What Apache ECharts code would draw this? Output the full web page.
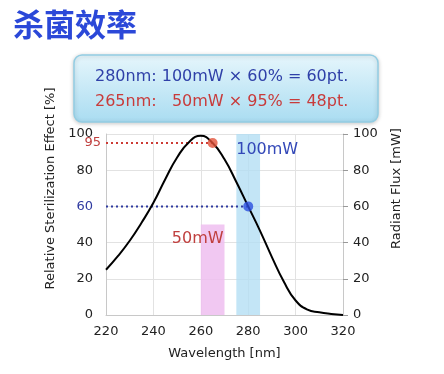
<!DOCTYPE html>
<html><head><meta charset="utf-8">
<script src="https://cdn.jsdelivr.net/npm/echarts@6/dist/echarts.min.js"></script>
<style>html,body{margin:0;padding:0;background:#fff}#c{width:444px;height:374px}</style>
</head><body><div id="c"></div>
<script>
// ---- data ----
const titleText = '杀菌效率';
const infoLine1 = '280nm: 100mW × 60% = 60pt.';
const infoLine2 = '265nm:   50mW × 95% = 48pt.';
const wavelengths = [220,225,230,235,240,245,250,255,260,265,270,275,280,285,290,295,300,305,310,315,320];
const effect =      [25, 32.5, 41, 51, 62, 75, 87, 95.5, 99, 95, 86, 73.5, 60, 46.5, 32, 18.5, 8, 3, 1.5, 0.6, 0];
const barCenters = [265, 280];
const barWidthsNm = [10, 10];
const barFlux = [50, 100];
const barLabels = ['50mW', '100mW'];
const point265 = [265, 95];
const point280 = [280, 60];
const xTicks = [220, 240, 260, 280, 300, 320];
const yTicks = [0, 20, 40, 60, 80, 100];

const FONT = 'DejaVu Sans';
const chart = echarts.init(document.getElementById('c'));
const barColors = ['rgba(238,190,240,0.85)', 'rgba(180,222,244,0.8)'];
const barLabelColors = ['#c0403f', '#3348b8'];
const barLabelOffsets = [[-15, 14], [19, 16]];

chart.setOption({
  animation: false,
  textStyle: { fontFamily: FONT },
  grid: { left: 106, right: 101, top: 134, bottom: 59 },
  xAxis: {
    type: 'value', min: xTicks[0], max: xTicks[xTicks.length-1], interval: 20,
    name: 'Wavelength [nm]', nameLocation: 'middle', nameGap: 32,
    nameTextStyle: { fontSize: 13, color: '#222', fontFamily: FONT },
    axisLine: { show: true, lineStyle: { color: '#c8c8c8' } },
    axisTick: { show: false },
    axisLabel: { fontSize: 13, color: '#222', margin: 10, fontFamily: FONT },
    splitLine: { show: true, lineStyle: { color: '#e2e2e2' } }
  },
  yAxis: [{
    type: 'value', min: 0, max: 100, interval: 20, position: 'left',
    name: 'Relative Sterilization Effect [%]', nameLocation: 'middle', nameGap: 40,
    nameTextStyle: { fontSize: 13, color: '#222', fontFamily: FONT, padding: [0, 0, 0, 72] },
    axisLine: { show: true, lineStyle: { color: '#c8c8c8' } },
    axisTick: { show: false },
    axisLabel: { fontSize: 13, margin: 13, fontFamily: FONT,
      formatter: v => v === 60 ? '{b|60}' : '{k|' + v + '}',
      rich: { b: { color: '#2f3aa0', fontSize: 13, fontFamily: FONT }, k: { color: '#222', fontSize: 13, fontFamily: FONT } } },
    splitLine: { show: true, lineStyle: { color: '#e2e2e2' } }
  }, {
    type: 'value', min: 0, max: 100, interval: 20, position: 'right',
    name: 'Radiant Flux [mW]', nameLocation: 'middle', nameGap: 47,
    nameTextStyle: { fontSize: 13, color: '#222', fontFamily: FONT, padding: [0, 0, 0, 72] },
    axisLine: { show: true, lineStyle: { color: '#c8c8c8' } },
    axisTick: { show: true, length: 5, lineStyle: { color: '#999' } },
    axisLabel: { fontSize: 13, color: '#222', margin: 10, fontFamily: FONT },
    splitLine: { show: false }
  }],
  series: [{
    type: 'custom', yAxisIndex: 1, z: 1,
    data: barCenters.map((c, i) => [c, barWidthsNm[i], barFlux[i], i]),
    renderItem: (params, api) => {
      const c = api.value(0), w = api.value(1), h = api.value(2), i = api.value(3);
      const p0 = api.coord([c - w / 2, h]);
      const p1 = api.coord([c + w / 2, 0]);
      const mid = (p0[0] + p1[0]) / 2;
      return { type: 'group', children: [
        { type: 'rect', shape: { x: p0[0], y: p0[1], width: p1[0] - p0[0], height: p1[1] - p0[1] },
          style: { fill: barColors[i] } },
        { type: 'text', style: { text: barLabels[i], x: mid + barLabelOffsets[i][0], y: p0[1] + barLabelOffsets[i][1],
          align: 'center', verticalAlign: 'middle', fill: barLabelColors[i], font: '16px ' + FONT } }
      ]};
    }
  }, {
    type: 'line', data: wavelengths.map((x, i) => [x, effect[i]]),
    smooth: true, showSymbol: false, z: 3,
    lineStyle: { color: '#000', width: 2 }
  }, {
    type: 'line', data: [[xTicks[0], point265[1]], point265], showSymbol: false, z: 2,
    lineStyle: { color: '#cc3b35', width: 2, type: [2, 3] },
    markPoint: { symbol: 'circle', symbolSize: 0, data: [{ coord: [xTicks[0], point265[1]],
      label: { show: true, formatter: String(point265[1]), position: 'left', distance: 5, color: '#c0403f', fontSize: 13, fontFamily: FONT } }] }
  }, {
    type: 'line', data: [[xTicks[0], point280[1]], point280], showSymbol: false, z: 2,
    lineStyle: { color: '#2f3aa0', width: 2, type: [2, 3] }
  }, {
    type: 'scatter', data: [point265], symbolSize: 10, z: 4,
    itemStyle: { color: '#e2533a' }
  }, {
    type: 'scatter', data: [point280], symbolSize: 10, z: 4,
    itemStyle: { color: '#2b4fe0' }
  }],
  graphic: [
    { type: 'text', left: 13, top: 9, z: 10,
      style: { text: titleText, font: 'bold 31px "Noto Sans CJK SC"', fill: '#2b48d8' } },
    { type: 'rect', shape: { x: 74, y: 55, width: 304, height: 67, r: 8 }, z: 10,
      style: { fill: new echarts.graphic.LinearGradient(0, 0, 0, 1, [
        { offset: 0, color: '#e6f6fc' }, { offset: 1, color: '#a9dcf1' }]),
        stroke: '#92cde3', lineWidth: 1.5,
        shadowBlur: 4, shadowColor: 'rgba(0,0,0,0.2)', shadowOffsetY: 1 } },
    { type: 'text', x: 95, y: 77, z: 11,
      style: { text: infoLine1, font: '16px ' + FONT, fill: '#2f40a8', verticalAlign: 'middle' } },
    { type: 'text', x: 95, y: 102, z: 11,
      style: { text: infoLine2, font: '16px ' + FONT, fill: '#c83b3b', verticalAlign: 'middle' } }
  ]
});
</script></body></html>
